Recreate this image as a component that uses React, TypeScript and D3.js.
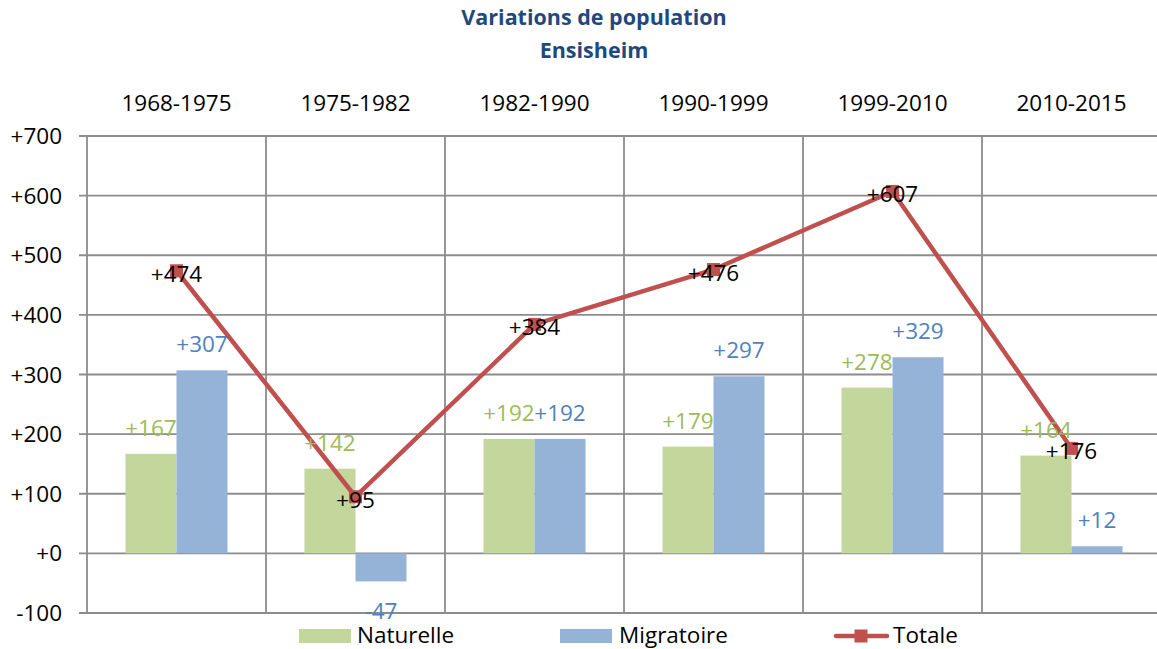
import React from "react";
import * as d3 from "d3";

const categories = ["1968-1975", "1975-1982", "1982-1990", "1990-1999", "1999-2010", "2010-2015"];
const naturelle = [167, 142, 192, 179, 278, 164];
const migratoire = [307, -47, 192, 297, 329, 12];
const totale = [474, 95, 384, 476, 607, 176];
const yTicks = [-100, 0, 100, 200, 300, 400, 500, 600, 700];
const titleLines = ["Variations de population", "Ensisheim"];

const W = 1157;
const H = 649;
const FONT = "'Open Sans', 'Liberation Sans', sans-serif";
const GREEN = "#C3D69B";
const BLUE = "#95B3D7";
const GREEN_TXT = "#9BBB59";
const BLUE_TXT = "#4F81BD";
const RED = "#C0504D";
const GRID = "#8C8C8C";

const fmt = (v: number) => (v >= 0 ? "+" + v : String(v));

export default function App() {
  const left = 87;
  const right = 1161;
  const top = 136;
  const bottom = 613;
  const y = d3.scaleLinear().domain([-100, 700]).range([bottom, top]);
  const xCat = d3.scaleBand<string>().domain(categories).range([left, right]).paddingInner(0).paddingOuter(0);
  const xGroup = d3.scaleBand<string>().domain(categories).range([left, right]).paddingInner(0.43).paddingOuter(0.215);
  const xSub = d3.scaleBand<string>().domain(["n", "m"]).range([0, xGroup.bandwidth()]);
  const center = (c: string) => (xCat(c) as number) + xCat.bandwidth() / 2;

  const lineGen = d3
    .line<number>()
    .x((_, i) => center(categories[i]))
    .y((d) => y(d));

  const fs = 22.5;
  const ms = 13;

  const barLabel = (v: number) => (v >= 0 ? y(v) - 18 : y(v) + 38);

  return (
    <svg width={W} height={H} style={{ position: "absolute", left: 0, top: 0, background: "#fff" }} fontFamily={FONT}>
      {/* title */}
      {titleLines.map((t, i) => (
        <text key={t} x={594} y={25 + i * 33} textAnchor="middle" fontWeight="bold" fontSize={21.5} fill="#1F497D">
          {t}
        </text>
      ))}
      {/* horizontal gridlines */}
      {yTicks.map((t) => (
        <g key={t}>
          <line x1={79} x2={right} y1={y(t)} y2={y(t)} stroke={GRID} strokeWidth={1.8} />
          <text x={62} y={y(t) + 8} textAnchor="end" fontSize={fs} fill="#000">
            {fmt(t)}
          </text>
        </g>
      ))}
      {/* vertical gridlines */}
      {categories.map((c) => (
        <line key={c} x1={xCat(c)} x2={xCat(c)} y1={top} y2={bottom} stroke={GRID} strokeWidth={1.8} />
      ))}
      {/* category labels */}
      {categories.map((c) => (
        <text key={c} x={center(c)} y={111} textAnchor="middle" fontSize={fs} fill="#000">
          {c}
        </text>
      ))}
      {/* bars */}
      {categories.map((c, i) => {
        const gx = xGroup(c) as number;
        const n = naturelle[i];
        const m = migratoire[i];
        return (
          <g key={c}>
            <rect x={gx + (xSub("n") as number)} width={xSub.bandwidth()} y={Math.min(y(n), y(0))} height={Math.abs(y(n) - y(0))} fill={GREEN} />
            <rect x={gx + (xSub("m") as number)} width={xSub.bandwidth()} y={Math.min(y(m), y(0))} height={Math.abs(y(m) - y(0))} fill={BLUE} />
          </g>
        );
      })}
      {/* line */}
      <path d={lineGen(totale) as string} fill="none" stroke={RED} strokeWidth={4.5} strokeLinejoin="round" />
      {totale.map((v, i) => (
        <rect key={i} x={center(categories[i]) - ms / 2} y={y(v) - ms / 2} width={ms} height={ms} fill={RED} />
      ))}
      {/* bar labels */}
      {categories.map((c, i) => {
        const gx = xGroup(c) as number;
        const bw = xSub.bandwidth();
        return (
          <g key={c}>
            <text x={gx + (xSub("n") as number) + bw / 2} y={barLabel(naturelle[i])} textAnchor="middle" fontSize={fs} fill={GREEN_TXT}>
              {fmt(naturelle[i])}
            </text>
            <text x={gx + (xSub("m") as number) + bw / 2} y={barLabel(migratoire[i])} textAnchor="middle" fontSize={fs} fill={BLUE_TXT}>
              {fmt(migratoire[i])}
            </text>
          </g>
        );
      })}
      {/* totale labels */}
      {totale.map((v, i) => (
        <text key={i} x={center(categories[i])} y={y(v) + 11} textAnchor="middle" fontSize={fs} fill="#000">
          {fmt(v)}
        </text>
      ))}
      {/* legend */}
      <rect x={299} y={629} width={52} height={14} fill={GREEN} />
      <text x={357} y={643} fontSize={fs} fill="#000">Naturelle</text>
      <rect x={560} y={629} width={52} height={14} fill={BLUE} />
      <text x={619} y={643} fontSize={fs} fill="#000">Migratoire</text>
      <line x1={836} x2={887} y1={636} y2={636} stroke={RED} strokeWidth={4.5} strokeLinecap="round" />
      <rect x={861 - ms / 2} y={636 - ms / 2} width={ms} height={ms} fill={RED} />
      <text x={893} y={643} fontSize={fs} fill="#000">Totale</text>
    </svg>
  );
}
